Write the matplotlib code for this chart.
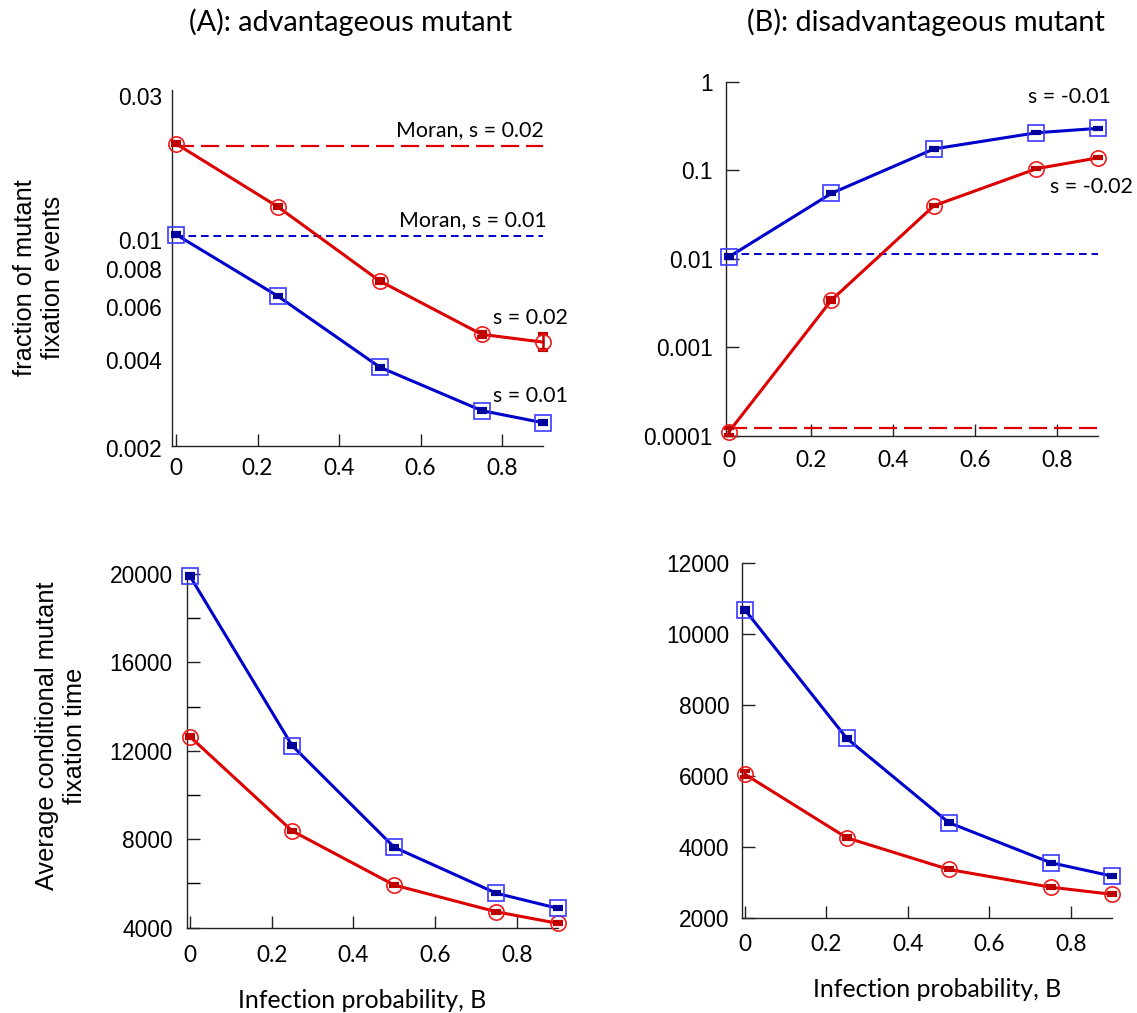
import matplotlib
matplotlib.use("Agg")
import matplotlib.pyplot as plt
from matplotlib.ticker import FixedLocator, NullLocator, NullFormatter

plt.rcParams['font.family'] = ['Liberation Sans', 'DejaVu Sans']
plt.rcParams['lines.scale_dashes'] = False

W, H = 1137, 1013
CAL = 'Lato'

# ---------------- data ----------------
B_vals = [0.0, 0.25, 0.5, 0.75, 0.9]

# (A) advantageous mutant: fraction of fixation events
fixA_s002 = [0.0209, 0.0129, 0.00732, 0.00487, 0.00459]
fixA_s002_err = [0.0002, 0.00015, 0.0001, 0.00008, 0.00028]
fixA_s001 = [0.01044, 0.00652, 0.00379, 0.00272, 0.00248]
fixA_s001_err = [0.0001, 0.00006, 0.00004, 0.00003, 0.00003]
moranA_s002 = 0.0205
moranA_s001 = 0.0103

# (B) disadvantageous mutant: fraction of fixation events
fixB_s001 = [0.0105, 0.0548, 0.174, 0.265, 0.297]
fixB_s001_err = [0.0004, 0.0015, 0.004, 0.005, 0.005]
fixB_s002 = [0.000111, 0.00341, 0.0397, 0.104, 0.138]
fixB_s002_err = [0.00001, 0.00015, 0.0008, 0.002, 0.002]
moranB_s001 = 0.0113
moranB_s002 = 0.000123

# (A) conditional fixation time
timeA_s001 = [19900, 12240, 7640, 5560, 4880]
timeA_s001_err = [100, 80, 60, 50, 40]
timeA_s002 = [12640, 8380, 5930, 4720, 4200]
timeA_s002_err = [80, 60, 50, 40, 40]

# (B) conditional fixation time
timeB_s001 = [10670, 7050, 4680, 3550, 3175]
timeB_s001_err = [60, 50, 40, 30, 30]
timeB_s002 = [6040, 4250, 3360, 2860, 2660]
timeB_s002_err = [90, 40, 30, 30, 30]

xticks = [0, 0.2, 0.4, 0.6, 0.8]
xticklabels = ['0', '0.2', '0.4', '0.6', '0.8']
yticksA = [0.004, 0.006, 0.008, 0.01, 0.03]
yticklabelsA = ['0.004', '0.006', '0.008', '0.01', '0.03']
ybottomA = 0.002
ybottomA_label = '0.002'
yticksB = [0.0001, 0.001, 0.01, 0.1, 1]
yticklabelsB = ['0.0001', '0.001', '0.01', '0.1', '1']
yticksC = [4000, 8000, 12000, 16000, 20000]
yticksC_minor = [6000, 10000, 14000, 18000]
yticksD = [2000, 4000, 6000, 8000, 10000, 12000]

BLUE = '#0000cc'
BLUE_M = '#3a3aff'
BLUE_C = '#00009a'
RED = '#dd0000'
RED_M = '#f01c1c'
RED_C = '#c00000'

fig = plt.figure(figsize=(W / 100, H / 100), dpi=100)


def px_axes(left, right, top, bottom):
    return fig.add_axes([left / W, 1 - bottom / H, (right - left) / W, (bottom - top) / H])


def ftext(x, y, s, **kw):
    fig.text(x / W, 1 - y / H, s, **kw)


def style(ax, xpad, ypad):
    for sp in ['top', 'right']:
        ax.spines[sp].set_visible(False)
    for sp in ['left', 'bottom']:
        ax.spines[sp].set_linewidth(1.0)
        ax.spines[sp].set_color('#222222')
    ax.set_xticks(xticks)
    ax.set_xticklabels(xticklabels)
    ax.tick_params(axis='x', direction='in', length=9, width=1.0, pad=xpad,
                   labelsize=16.3, labelfontfamily=CAL, color='#222222')
    ax.tick_params(axis='y', direction='in', length=9, width=1.0, pad=ypad,
                   labelsize=16.4, color='#222222')
    ax.tick_params(axis='y', which='minor', direction='in', length=9, width=1.0)
    ax.set_facecolor('none')


def series(ax, y, err, color, mcolor, ccolor, marker):
    ax.plot(B_vals, y, '-', color=color, lw=2.2, zorder=3, clip_on=False)
    ax.errorbar(B_vals, y, yerr=err, fmt='none', ecolor=ccolor, elinewidth=1.8,
                capsize=3.7, capthick=3, zorder=4, clip_on=False)
    ax.plot(B_vals, y, linestyle='none', marker=marker, markersize=11,
            markerfacecolor='none', markeredgecolor=mcolor, markeredgewidth=1.2,
            zorder=5, clip_on=False)


# ---------------- panel A (top-left) ----------------
axA = px_axes(171.7, 542.8, 90, 445.7)
axA.set_yscale('log')
axA.set_xlim(-0.0106, 0.9)
axA.set_ylim(0.00208, 0.0315)
style(axA, 9, 7)
axA.yaxis.set_major_locator(FixedLocator(yticksA))
axA.set_yticklabels(yticklabelsA)
axA.yaxis.set_minor_locator(NullLocator())
axA.yaxis.set_minor_formatter(NullFormatter())
axA.tick_params(axis='y', length=0)
axA.annotate(ybottomA_label, xy=(0, ybottomA), xycoords=axA.get_yaxis_transform(),
             xytext=(-7, 0), textcoords='offset points', ha='right', va='center',
             fontsize=16.4, annotation_clip=False)
axA.hlines(moranA_s002, 0, 0.9, colors=RED, lw=1.6, linestyles=(0, (13, 5)), zorder=2)
axA.hlines(moranA_s001, 0, 0.9, colors=BLUE, lw=1.4, linestyles=(0, (5.5, 3.5)), zorder=2)
series(axA, fixA_s002, fixA_s002_err, RED, RED_M, RED_C, 'o')
series(axA, fixA_s001, fixA_s001_err, BLUE, BLUE_M, BLUE_C, 's')

# ---------------- panel B (top-right) ----------------
axB = px_axes(726, 1098, 81.7, 435.7)
axB.set_yscale('log')
axB.set_xlim(-0.0073, 0.9)
axB.set_ylim(1e-4, 1)
style(axB, 10, 9.5)
axB.yaxis.set_major_locator(FixedLocator(yticksB))
axB.set_yticklabels(yticklabelsB)
axB.yaxis.set_minor_locator(NullLocator())
axB.yaxis.set_minor_formatter(NullFormatter())
axB.hlines(moranB_s001, 0, 0.9, colors=BLUE, lw=1.4, linestyles=(0, (5.5, 3.5)), zorder=2)
axB.hlines(moranB_s002, 0, 0.9, colors=RED, lw=1.6, linestyles=(0, (13, 5)), zorder=2)
series(axB, fixB_s002, fixB_s002_err, RED, RED_M, RED_C, 'o')
series(axB, fixB_s001, fixB_s001_err, BLUE, BLUE_M, BLUE_C, 's')

# ---------------- panel C (bottom-left) ----------------
axC = px_axes(186.7, 557.5, 574, 927.7)
axC.set_xlim(-0.0081, 0.9)
axC.set_ylim(4000, 20000)
style(axC, 12.5, 10)
axC.set_yticks(yticksC)
axC.set_yticks(yticksC_minor, minor=True)
series(axC, timeA_s002, timeA_s002_err, RED, RED_M, RED_C, 'o')
series(axC, timeA_s001, timeA_s001_err, BLUE, BLUE_M, BLUE_C, 's')

# ---------------- panel D (bottom-right) ----------------
axD = px_axes(741.7, 1111.75, 562.7, 917.7)
axD.set_xlim(-0.008, 0.9)
axD.set_ylim(2000, 12000)
style(axD, 11.5, 9)
axD.set_yticks(yticksD)
series(axD, timeB_s002, timeB_s002_err, RED, RED_M, RED_C, 'o')
series(axD, timeB_s001, timeB_s001_err, BLUE, BLUE_M, BLUE_C, 's')

for ax in (axA, axB, axC, axD):
    for lab in ax.get_xticklabels() + ax.get_yticklabels():
        lab.set_color('black')

# ---------------- texts ----------------
ftext(350.5, 22.5, '(A): advantageous mutant', family=CAL, fontsize=20.8, ha='center', va='center')
ftext(926, 22.5, '(B): disadvantageous mutant', family=CAL, fontsize=20.8, ha='center', va='center')

ftext(39, 277.5, 'fraction of mutant\nfixation events', fontsize=18.3, rotation=90,
      ha='center', va='center', multialignment='center')
ftext(61, 736, 'Average conditional mutant\nfixation time', fontsize=18.3, rotation=90,
      ha='center', va='center', multialignment='center')

ftext(362, 1000, 'Infection probability, B', family=CAL, fontsize=17.9, ha='center', va='center')
ftext(937, 989, 'Infection probability, B', family=CAL, fontsize=17.9, ha='center', va='center')

ftext(543.3, 130, 'Moran, s = 0.02', family=CAL, fontsize=15.4, ha='right', va='center')
ftext(546.7, 220, 'Moran, s = 0.01', family=CAL, fontsize=15.4, ha='right', va='center')
ftext(568.3, 317.5, 's = 0.02', family=CAL, fontsize=15.4, ha='right', va='center')
ftext(568.3, 395.5, 's = 0.01', family=CAL, fontsize=15.4, ha='right', va='center')
ftext(1110.7, 96.7, 's = -0.01', family=CAL, fontsize=15.4, ha='right', va='center')
ftext(1132.7, 187, 's = -0.02', family=CAL, fontsize=15.4, ha='right', va='center')

fig.savefig('out.png', dpi=100)
